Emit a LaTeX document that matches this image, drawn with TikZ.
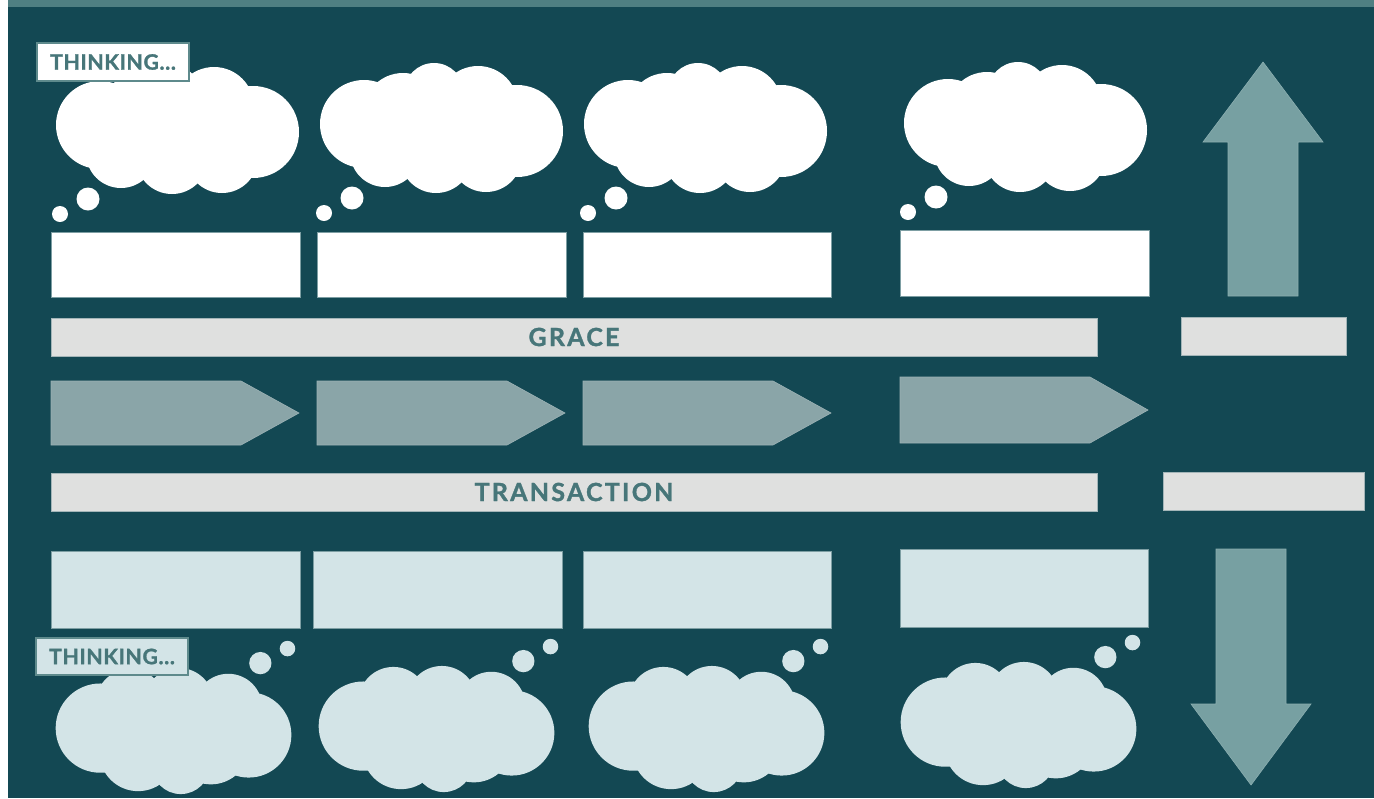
\documentclass[tikz,border=0pt]{standalone}
\usepackage{fontspec}
\setmainfont{Lato}
\newfontfamily\lblfont[LetterSpace=9,BoldFeatures={FakeBold=1.3}]{Lato}
\newfontfamily\thkfont[LetterSpace=3,BoldFeatures={FakeBold=1.3}]{Lato}
\usetikzlibrary{fit}
\definecolor{bgdark}{HTML}{134853}
\definecolor{strip}{HTML}{4F7F82}
\definecolor{boxedge}{HTML}{7D9EA3}
\definecolor{lightbox}{HTML}{D3E4E7}
\definecolor{barfill}{HTML}{DFE0DF}
\definecolor{baredge}{HTML}{A3B5B8}
\definecolor{pentfill}{HTML}{8AA5A8}
\definecolor{bigarrow}{HTML}{77A0A2}
\definecolor{txt}{HTML}{477679}
\definecolor{lbledge}{HTML}{5E8A8C}
\begin{document}
\begin{tikzpicture}[x=0.5pt,y=-0.5pt,
  whitebox/.style={fill=white,draw=boxedge,line width=0.4pt,inner sep=0pt},
  lightrect/.style={fill=lightbox,draw=boxedge,line width=0.4pt,inner sep=0pt},
  barbox/.style={fill=barfill,draw=baredge,line width=0.4pt,inner sep=0pt},
  pent/.style={fill=pentfill,draw=pentfill!85!white,line width=0.3pt},
  bigarr/.style={fill=bigarrow,draw=bigarrow!85!white,line width=0.3pt},
  thinkbox/.style={draw=lbledge,line width=1pt,inner sep=0pt},
  thinktext/.style={text=txt,font=\thkfont\fontsize{10.6}{12}\selectfont\bfseries},
  bartext/.style={text=txt,font=\lblfont\fontsize{12.5}{14}\selectfont\bfseries},
  cloud/.pic={
    \fill[pic actions] (0,0) ellipse[x radius=96,y radius=50];
    \fill[pic actions] (-77,-4) circle[radius=44];
    \fill[pic actions] (76,3) circle[radius=46];
    \fill[pic actions] (-38,-15) circle[radius=40];
    \fill[pic actions] (-7,-35) circle[radius=30];
    \fill[pic actions] (37,-22) circle[radius=40];
    \fill[pic actions] (-56,24) circle[radius=35];
    \fill[pic actions] (-5,29) circle[radius=36];
    \fill[pic actions] (45,28) circle[radius=36];
    \fill[pic actions] (-89,70) circle[radius=11.5];
    \fill[pic actions] (-117,85) circle[radius=8];
  }]
\useasboundingbox (0,0) rectangle (1374,798);
\fill[white] (0,0) rectangle (1374,798);
\fill[bgdark] (8,0) rectangle (1374,798);
\fill[strip] (8,0) rectangle (1374,7);

% top clouds
\pic[fill=white] (c1) at (177,129) {cloud};
\pic[fill=white] (c2) at (441,128) {cloud};
\pic[fill=white] (c3) at (705,128) {cloud};
\pic[fill=white] (c4) at (1025,127) {cloud};

% top boxes
\node[whitebox,fit={(51,232)(300,297)}] (t1) {};
\node[whitebox,fit={(317,232)(566,297)}] (t2) {};
\node[whitebox,fit={(583,232)(831,297)}] (t3) {};
\node[whitebox,fit={(900,230)(1149,296)}] (t4) {};

% bars
\node[barbox,fit={(51,318)(1097,356)}] (grace) {};
\node[bartext] (gracelbl) at (grace.center) {GRACE};
\node[barbox,fit={(51,473)(1097,511)}] (trans) {};
\node[bartext] (translbl) at (trans.center) {TRANSACTION};
\node[barbox,fit={(1181,317)(1346,355)}] (rbar1) {};
\node[barbox,fit={(1163,472)(1364,510)}] (rbar2) {};

% pentagons
\fill[pent] (51,381) -- (241,381) -- (299,413) -- (241,445) -- (51,445) -- cycle;
\fill[pent] (317,381) -- (507,381) -- (565,413) -- (507,445) -- (317,445) -- cycle;
\fill[pent] (583,381) -- (773,381) -- (831,413) -- (773,445) -- (583,445) -- cycle;
\fill[pent] (900,377) -- (1090,377) -- (1148,410) -- (1090,443) -- (900,443) -- cycle;

% bottom boxes
\node[lightrect,fit={(51,551)(300,628)}] (b1) {};
\node[lightrect,fit={(313,551)(562,628)}] (b2) {};
\node[lightrect,fit={(583,551)(831,628)}] (b3) {};
\node[lightrect,fit={(900,549)(1148,627)}] (b4) {};

% bottom clouds
\pic[fill=lightbox,rotate=180,scale=0.97] (d1) at (174,731) {cloud};
\pic[fill=lightbox,rotate=180,scale=0.97] (d2) at (437,729) {cloud};
\pic[fill=lightbox,rotate=180,scale=0.97] (d3) at (707,729) {cloud};
\pic[fill=lightbox,rotate=180,scale=0.97] (d4) at (1019,725) {cloud};

% big arrows
\fill[bigarr] (1228,296) -- (1228,142) -- (1203,142) -- (1263,62) -- (1323,142) -- (1298,142) -- (1298,296) -- cycle;
\fill[bigarr] (1216,549) -- (1286,549) -- (1286,704) -- (1311,704) -- (1251,785) -- (1191,704) -- (1216,704) -- cycle;

% thinking labels
\node[thinkbox,fill=white,fit={(37,43)(189,81)}] (th1) {};
\node[thinktext] (th1t) at (th1.center) {THINKING...};
\node[thinkbox,fill=lightbox,fit={(36,638)(188,675)}] (th2) {};
\node[thinktext] (th2t) at (th2.center) {THINKING...};
\end{tikzpicture}
\end{document}
